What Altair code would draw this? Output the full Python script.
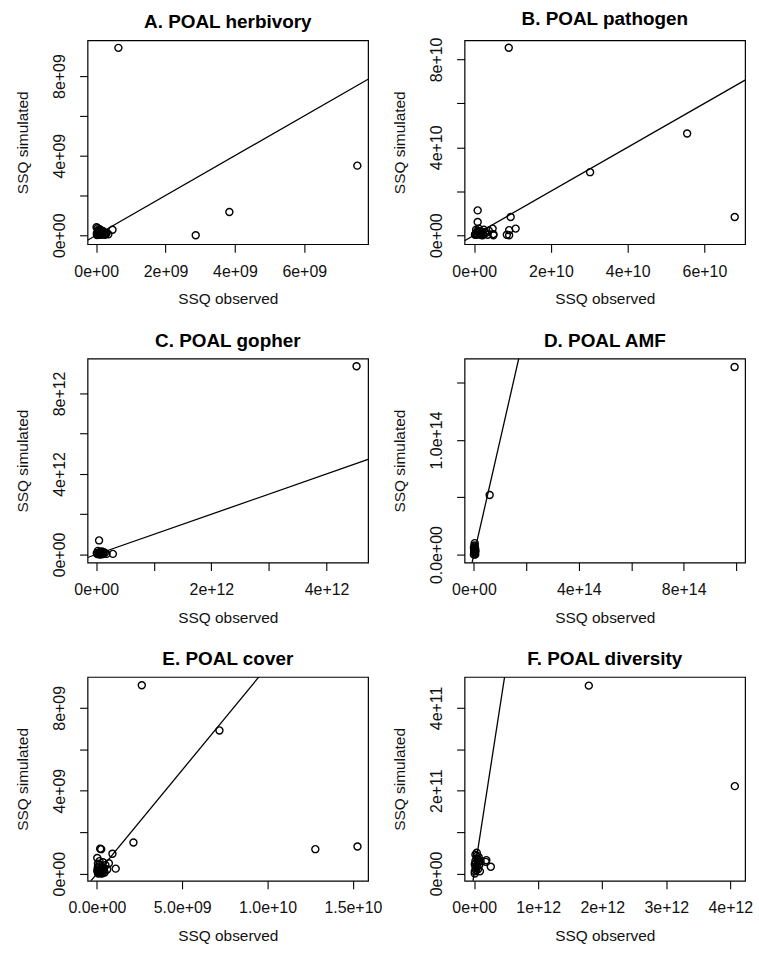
import altair as alt
import pandas as pd

# ---------------- data ----------------
TITLES = ["A. POAL herbivory", "B. POAL pathogen", "C. POAL gopher",
          "D. POAL AMF", "E. POAL cover", "F. POAL diversity"]

# A: x,y in units of 1e9
A_OBS = [0.64, 7.53, 3.84, 2.87, 0.47, 0.30, 0.22, 0.15, 0.10, 0.05, 0.02, 0.08,
         0.12, 0.18, 0.25, 0.03, 0.06, 0.35, 0.01, 0.04,
         0.02, 0.04, 0.07, 0.09, 0.13, 0.16, 0.20, 0.24, 0.28, 0.11, 0.14, 0.19, 0.06]
A_SIM = [9.42, 3.50, 1.17, 0.00, 0.28, 0.12, 0.05, 0.18, 0.30, 0.22, 0.10, 0.06,
         0.02, 0.10, 0.03, 0.01, 0.14, 0.05, 0.40, 0.35,
         0.02, 0.06, 0.03, 0.12, 0.08, 0.04, 0.15, 0.10, 0.06, 0.20, 0.14, 0.22, 0.25]
# B: units of 1e10
B_OBS = [0.90, 5.55, 3.02, 6.79, 0.09, 0.09, 0.95, 0.91, 1.08, 0.91, 0.85, 0.50,
         0.48, 0.50, 0.02, 0.05, 0.10, 0.15, 0.20, 0.25, 0.30, 0.35, 0.12, 0.05,
         0.38, 0.22, 0.03, 0.07, 0.13, 0.17, 0.23, 0.28, 0.08, 0.18]
B_SIM = [8.53, 4.63, 2.87, 0.83, 1.13, 0.60, 0.83, 0.23, 0.30, 0.00, 0.02, 0.00,
         0.30, 0.05, 0.02, 0.10, 0.20, 0.05, 0.15, 0.25, 0.10, 0.02, 0.30, 0.25,
         0.20, 0.00, 0.06, 0.02, 0.12, 0.08, 0.05, 0.14, 0.16, 0.01]
# C: units of 1e12
C_OBS = [4.52, 0.05, 0.29, 0.02, 0.05, 0.08, 0.10, 0.12, 0.15, 0.18, 0.03, 0.06,
         0.01, 0.04, 0.07, 0.09, 0.11, 0.13]
C_SIM = [9.35, 0.70, 0.03, 0.02, 0.10, 0.05, 0.15, 0.02, 0.08, 0.03, 0.18, 0.00,
         0.06, 0.04, 0.12, 0.01, 0.07, 0.11]
# D: units of 1e14
D_OBS = [9.94, 0.60, 0.00, 0.02, 0.05, 0.03, 0.01, 0.04, 0.02, 0.05, 0.00,
         0.01, 0.03, 0.06, 0.02]
D_SIM = [1.636, 0.52, 0.00, 0.02, 0.05, 0.07, 0.04, 0.01, 0.08, 0.00, 0.06,
         0.03, 0.10, 0.03, 0.05]
# E: units of 1e9
E_OBS = [2.63, 7.18, 2.14, 12.80, 15.27, 0.91, 1.10, 0.19, 0.25, 0.02, 0.05, 0.10,
         0.20, 0.30, 0.40, 0.50, 0.15, 0.60, 0.05, 0.35, 0.25, 0.45, 0.70,
         0.02, 0.08, 0.12, 0.18, 0.22, 0.28, 0.33, 0.38, 0.10, 0.15, 0.42, 0.06, 0.30]
E_SIM = [9.09, 6.91, 1.50, 1.18, 1.31, 0.96, 0.24, 1.20, 1.18, 0.75, 0.05, 0.20,
         0.10, 0.30, 0.15, 0.40, 0.45, 0.20, 0.30, 0.55, 0.00, 0.05, 0.50,
         0.15, 0.00, 0.35, 0.22, 0.05, 0.12, 0.02, 0.28, 0.08, 0.60, 0.25, 0.48, 0.18]
# F: x in units of 1e12, y in units of 1e11
F_OBS = [1.79, 4.07, 0.26, 0.18, 0.01, 0.02, 0.03, 0.05, 0.02, 0.04, 0.06, 0.08,
         0.10, 0.01, 0.07, 0.09, 0.19, 0.03, 0.05, 0.02, 0.06, 0.04, 0.01]
F_SIM = [4.54, 2.11, 0.16, 0.28, 0.05, 0.15, 0.25, 0.35, 0.45, 0.50, 0.10, 0.20,
         0.30, 0.00, 0.40, 0.05, 0.32, 0.08, 0.18, 0.30, 0.28, 0.42, 0.22]

X_UNITS = [1e9, 1e10, 1e12, 1e14, 1e9, 1e12]
Y_UNITS = [1e9, 1e10, 1e12, 1e14, 1e9, 1e11]

X_DOMAINS = [[-0.25e9, 7.84e9], [-0.252e10, 7.06e10], [-0.15e12, 4.72e12],
             [-0.357e14, 10.34e14], [-0.55e9, 15.89e9], [-0.15e12, 4.23e12]]
Y_DOMAINS = [[-0.45e9, 9.8e9], [-0.41e10, 8.87e10], [-0.40e12, 9.73e12],
             [-0.069e14, 1.709e14], [-0.35e9, 9.49e9], [-0.18e11, 4.75e11]]

X_TICKS = [[0, 2e9, 4e9, 6e9], [0, 2e10, 4e10, 6e10], [0, 1e12, 2e12, 3e12, 4e12],
           [0, 2e14, 4e14, 6e14, 8e14, 1e15], [0, 5e9, 1e10, 1.5e10],
           [0, 1e12, 2e12, 3e12, 4e12]]
X_LABELS = [["0e+00", "2e+09", "4e+09", "6e+09"],
            ["0e+00", "2e+10", "4e+10", "6e+10"],
            ["0e+00", "", "2e+12", "", "4e+12"],
            ["0e+00", "", "4e+14", "", "8e+14", ""],
            ["0.0e+00", "5.0e+09", "1.0e+10", "1.5e+10"],
            ["0e+00", "1e+12", "2e+12", "3e+12", "4e+12"]]
Y_TICKS = [[0, 2e9, 4e9, 6e9, 8e9], [0, 2e10, 4e10, 6e10, 8e10],
           [0, 2e12, 4e12, 6e12, 8e12], [0, 5e13, 1e14, 1.5e14],
           [0, 2e9, 4e9, 6e9, 8e9], [0, 1e11, 2e11, 3e11, 4e11]]
Y_LABELS = [["0e+00", "", "4e+09", "", "8e+09"],
            ["0e+00", "", "4e+10", "", "8e+10"],
            ["0e+00", "", "4e+12", "", "8e+12"],
            ["0.0e+00", "", "1.0e+14", ""],
            ["0e+00", "", "4e+09", "", "8e+09"],
            ["0e+00", "", "2e+11", "", "4e+11"]]

OBS = [A_OBS, B_OBS, C_OBS, D_OBS, E_OBS, F_OBS]
SIM = [A_SIM, B_SIM, C_SIM, D_SIM, E_SIM, F_SIM]

FONT = "Liberation Sans"
W, H = 282, 205
AX = dict(grid=False, domain=False, tickColor="black", tickSize=8, tickWidth=1.1,
          labelFont=FONT, labelFontSize=16, labelColor="#111",
          titleFont=FONT, titleFontSize=15.5, titleColor="#111",
          titleFontWeight="normal", labelOverlap=False, labelFlush=False)


def label_expr(ticks, labels):
    expr = "''"
    for t, l in reversed(list(zip(ticks, labels))):
        expr = f"datum.value == {t!r} ? '{l}' : ({expr})"
    return expr


panels = []
for i in range(6):
    df = pd.DataFrame({
        "obs": [v * X_UNITS[i] for v in OBS[i]],
        "sim": [v * Y_UNITS[i] for v in SIM[i]],
    })
    line_df = pd.DataFrame({"obs": X_DOMAINS[i], "sim": X_DOMAINS[i]})

    xenc = alt.X("obs:Q", title="SSQ observed",
                 scale=alt.Scale(domain=X_DOMAINS[i], nice=False, zero=False),
                 axis=alt.Axis(values=X_TICKS[i],
                               labelExpr=label_expr(X_TICKS[i], X_LABELS[i]),
                               labelPadding=11, titlePadding=13, **AX))
    yenc = alt.Y("sim:Q", title="SSQ simulated",
                 scale=alt.Scale(domain=Y_DOMAINS[i], nice=False, zero=False),
                 axis=alt.Axis(values=Y_TICKS[i],
                               labelExpr=label_expr(Y_TICKS[i], Y_LABELS[i]),
                               labelAngle=270, labelAlign="center",
                               labelBaseline="bottom", labelPadding=12,
                               titlePadding=21, **AX))

    pts = alt.Chart(df).mark_point(shape="circle", filled=False, size=50,
                                   strokeWidth=1.4, color="black",
                                   opacity=1).encode(x=xenc, y=yenc)
    ln = alt.Chart(line_df).mark_line(clip=True, color="black",
                                      strokeWidth=1.3).encode(x="obs:Q", y="sim:Q")
    panels.append(alt.layer(ln, pts).properties(
        width=W, height=H,
        title=alt.TitleParams(TITLES[i], fontSize=19, fontWeight="bold",
                              font=FONT, color="black", offset=8)))

chart = alt.concat(*panels, columns=2, spacing={"row": 115, "column": 97},
                   bounds="flush").properties(
    padding={"left": 15, "top": 7, "right": 5, "bottom": 5},
    background="white",
).configure_view(stroke="black", strokeWidth=1.2)

chart.save("out.html", embed_options={"renderer": "svg", "actions": False})
